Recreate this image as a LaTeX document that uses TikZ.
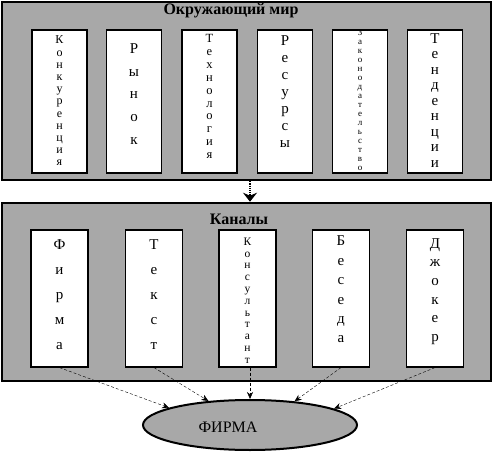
\documentclass[tikz,border=0pt]{standalone}
\usepackage{fontspec}
\setmainfont{Liberation Serif}
\usetikzlibrary{shapes.geometric, arrows.meta, positioning}
\definecolor{shd}{HTML}{A8A8A8}
\tikzset{
  frame/.style = {rectangle, draw=black, line width=2.5pt, fill=shd,
                  minimum width=489pt},
  card/.style  = {rectangle, draw=black, line width=1.2pt, fill=white},
  stk/.style   = {align=center, inner sep=0pt},
  ttl/.style   = {font=\fontsize{16}{18}\selectfont\bfseries, inner sep=0pt},
  darr/.style  = {-{Stealth[length=7pt,width=6pt]}, densely dashed, thin},
  bigarr/.style= {-{Stealth[length=9pt,width=14pt]}, densely dotted, line width=1.2pt},
}

\begin{document}
\begin{tikzpicture}[x={(1pt,0pt)}, y={(0pt,-1pt)}]
  \useasboundingbox (0,0) rectangle (495,457);

  % outer frames
  \node[frame, minimum height=178pt] (world) at (246.5,91) {};
  \node[frame, minimum height=178pt] (chan)  at (246.5,292) {};
  \node[ttl] (worldT) at (231,11)  {Окружающий мир};
  \node[ttl] (chanT)  at (239,219) {Каналы};

  % environment factors
  \node[card, minimum width=55pt, minimum height=143pt] (konk)  at (59.5,101.5) {};
  \node[card, minimum width=55pt, minimum height=143pt] (rynok) at (134,101.5)  {};
  \node[card, minimum width=55pt, minimum height=143pt] (tekhn) at (209.5,101.5) {};
  \node[card, minimum width=55pt, minimum height=143pt] (resur) at (285,101.5)  {};
  \node[card, minimum width=55pt, minimum height=143pt] (zakon) at (360,101.5)  {};
  \node[card, minimum width=55pt, minimum height=143pt] (tend)  at (435,101.5)  {};

  \node[stk, font=\fontsize{12}{12.2}\selectfont] (konkT)  at (59.5,101) {К\\о\\н\\к\\у\\р\\е\\н\\ц\\и\\я};
  \node[stk, font=\fontsize{15}{22.8}\selectfont] (rynokT) at (134,94) {Р\\ы\\н\\о\\к};
  \node[stk, font=\fontsize{12.5}{12.9}\selectfont] (tekhnT) at (209.5,96.5) {Т\\е\\х\\н\\о\\л\\о\\г\\и\\я};
  \node[stk, font=\fontsize{15}{17}\selectfont]   (resurT) at (285,91.5)   {Р\\е\\с\\у\\р\\с\\ы};
  \node[stk, font=\fontsize{9}{9}\selectfont]     (zakonT) at (360,100.5) {З\\а\\к\\о\\н\\о\\д\\а\\т\\е\\л\\ь\\с\\т\\в\\о};
  \node[stk, font=\fontsize{15}{15.5}\selectfont] (tendT)  at (435,100.5)  {Т\\е\\н\\д\\е\\н\\ц\\и\\и};

  % channels
  \node[card, minimum width=57pt, minimum height=137pt] (firma)  at (59.5,298.5) {};
  \node[card, minimum width=57pt, minimum height=137pt] (tekst)  at (154,298.5)  {};
  \node[card, minimum width=57pt, minimum height=137pt] (kons)   at (247.5,298.5) {};
  \node[card, minimum width=57pt, minimum height=137pt] (beseda) at (341,298.5)  {};
  \node[card, minimum width=57pt, minimum height=137pt] (joker)  at (435,298.5)  {};

  \node[stk, font=\fontsize{15}{25}\selectfont]   (firmaT)  at (59.5,294.5) {Ф\\и\\р\\м\\а};
  \node[stk, font=\fontsize{15}{25}\selectfont]   (tekstT)  at (154,294.5)  {Т\\е\\к\\с\\т};
  \node[stk, font=\fontsize{11.5}{11.8}\selectfont] (konsT)   at (247.5,300.5) {К\\о\\н\\с\\у\\л\\ь\\т\\а\\н\\т};
  \node[stk, font=\fontsize{15}{19.4}\selectfont] (besedaT) at (341,289.5)  {Б\\е\\с\\е\\д\\а};
  \node[stk, font=\fontsize{15}{18.6}\selectfont] (jokerT)  at (435,291.5)  {Д\\ж\\о\\к\\е\\р};

  % the firm
  \node[ellipse, draw=black, line width=2pt, fill=shd, minimum width=214pt,
        minimum height=50pt] (fm) at (250,425) {};
  \node[font=\fontsize{16}{18}\selectfont, inner sep=0pt] (fmT) at (228,427) {ФИРМА};

  \draw[bigarr] (fm |- world.south) -- (fm |- chan.north);

  \draw[darr] (firma.south)  -- (fm.168);
  \draw[darr] (tekst.south)  -- (fm.150);
  \draw[darr] (fm |- kons.south) -- (fm.north);
  \draw[darr] (beseda.south) -- (fm.28);
  \draw[darr] (joker.south)  -- (fm.11);

\end{tikzpicture}
\end{document}
